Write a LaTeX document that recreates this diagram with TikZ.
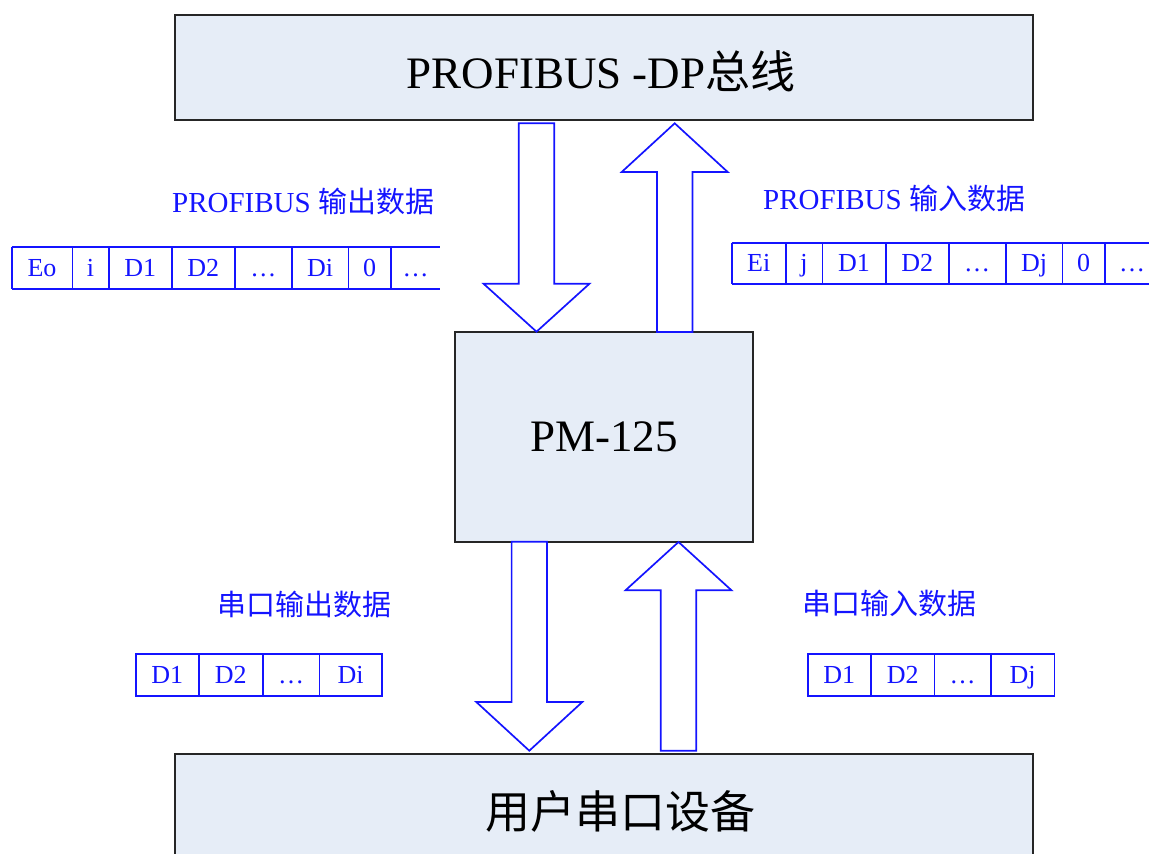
\documentclass[tikz,border=0pt]{standalone}
\usepackage{fontspec}
\setmainfont{Liberation Serif}
\newfontfamily\cjk{Noto Sans CJK SC}
\usepackage{xcolor}
\usetikzlibrary{calc}
\definecolor{boxfill}{RGB}{230,237,247}
\definecolor{dblue}{RGB}{20,20,255}
\tikzset{
	block/.style={
			draw=black!85, line width=1.6pt, fill=boxfill, inner sep=0pt,
			font=\fontsize{45}{54}\selectfont
		},
	fat arrow/.style={draw=dblue, line width=1.7pt, fill=white, line join=miter},
	grid line/.style={draw=dblue, line width=1.6pt},
	cell/.style={inner sep=0pt, text=dblue, anchor=base, font=\fontsize{26}{30}\selectfont},
	caption/.style={inner sep=0pt, text=dblue, anchor=base west, font=\fontsize{29}{34}\selectfont}
}
% x centre, tail y, tip y, signed head length
\newcommand{\fatarrow}[4]{
	\draw[fat arrow] ({#1-17.7},#2) -- ({#1+17.7},#2) -- ({#1+17.7},{#3-(#4)}) -- ({#1+53},{#3-(#4)})
		-- (#1,#3) -- ({#1-53},{#3-(#4)}) -- ({#1-17.7},{#3-(#4)}) -- cycle;
}

\begin{document}
\begin{tikzpicture}[x=1pt, y=-1pt]
		\useasboundingbox (0,0) rectangle (1149,854);
		\clip (0,0) rectangle (1149,854);

		\node[block, minimum width=858pt, minimum height=105pt, text depth=0pt] (bus) at (604,67.5) {};
		\node[inner sep=0pt, anchor=base, font=\fontsize{45}{54}\selectfont] (bustext) at (601,88) {PROFIBUS -DP\cjk{总线}};
		\node[block, minimum width=298pt, minimum height=210pt] (pm) at (604,437) {PM-125};
		\node[block, minimum width=858pt, minimum height=120pt, text depth=0pt, text height=0pt] (dev) at (604,814) {};
		\node[inner sep=0pt, anchor=base, font=\fontsize{45}{54}\selectfont\cjk] (devtext) at (620,828) {用户串口设备};

		% big arrows between the blocks
		\fatarrow{536.5}{123.3}{331.7}{48}
		\fatarrow{674.7}{332}{123.3}{-48.7}
		\fatarrow{529.3}{541.7}{750.7}{48.7}
		\fatarrow{678.5}{750.7}{542}{-48.3}

		\node[caption] (pbout) at (172,212) {PROFIBUS \cjk{输出数据}};
		\node[caption] (pbin) at (763,209) {PROFIBUS \cjk{输入数据}};
		\node[caption] (serout) at (217,615) {\cjk{串口输出数据}};
		\node[caption] (serin) at (802,614) {\cjk{串口输入数据}};

		% PROFIBUS output frame
		\draw[grid line] (11.7,246.7) -- (440,246.7) (11.7,288.7) -- (440,288.7);
		\foreach \x/\nx/\t [count=\i] in {11.7/72.3/Eo, 72.3/108.7/i, 108.7/171.7/D1, 171.7/235/D2,
				235/291.7/…, 291.7/348.3/Di, 348.3/391/0, 391/440/…} {
				\draw[grid line] (\x,246.7) -- (\x,288.7);
				\node[cell] (po\i) at ({(\x+\nx)/2},276) {\t};
			}

		% PROFIBUS input frame
		\draw[grid line] (731.7,242.7) -- (1149,242.7) (731.7,284) -- (1149,284);
		\foreach \x/\nx/\t [count=\i] in {731.7/785.7/Ei, 785.7/822.3/j, 822.3/885.7/D1, 885.7/948.7/D2,
				948.7/1005.7/…, 1005.7/1062.3/Dj, 1062.3/1105/0, 1105/1159/…} {
				\draw[grid line] (\x,242.7) -- (\x,284);
				\node[cell] (pi\i) at ({(\x+\nx)/2},271.5) {\t};
			}

		% serial output frame
		\draw[grid line] (135.7,654) rectangle (381.7,695.7);
		\foreach \x/\nx/\t [count=\i] in {135.7/199/D1, 199/262.7/D2, 262.7/319.3/…, 319.3/381.7/Di} {
				\draw[grid line] (\x,654) -- (\x,695.7);
				\node[cell] (so\i) at ({(\x+\nx)/2},683.5) {\t};
			}

		% serial input frame
		\draw[grid line] (807.7,654) rectangle (1054.3,695.7);
		\foreach \x/\nx/\t [count=\i] in {807.7/871/D1, 871/934.3/D2, 934.3/991/…, 991/1054.3/Dj} {
				\draw[grid line] (\x,654) -- (\x,695.7);
				\node[cell] (si\i) at ({(\x+\nx)/2},683.5) {\t};
			}
	\end{tikzpicture}
\end{document}
